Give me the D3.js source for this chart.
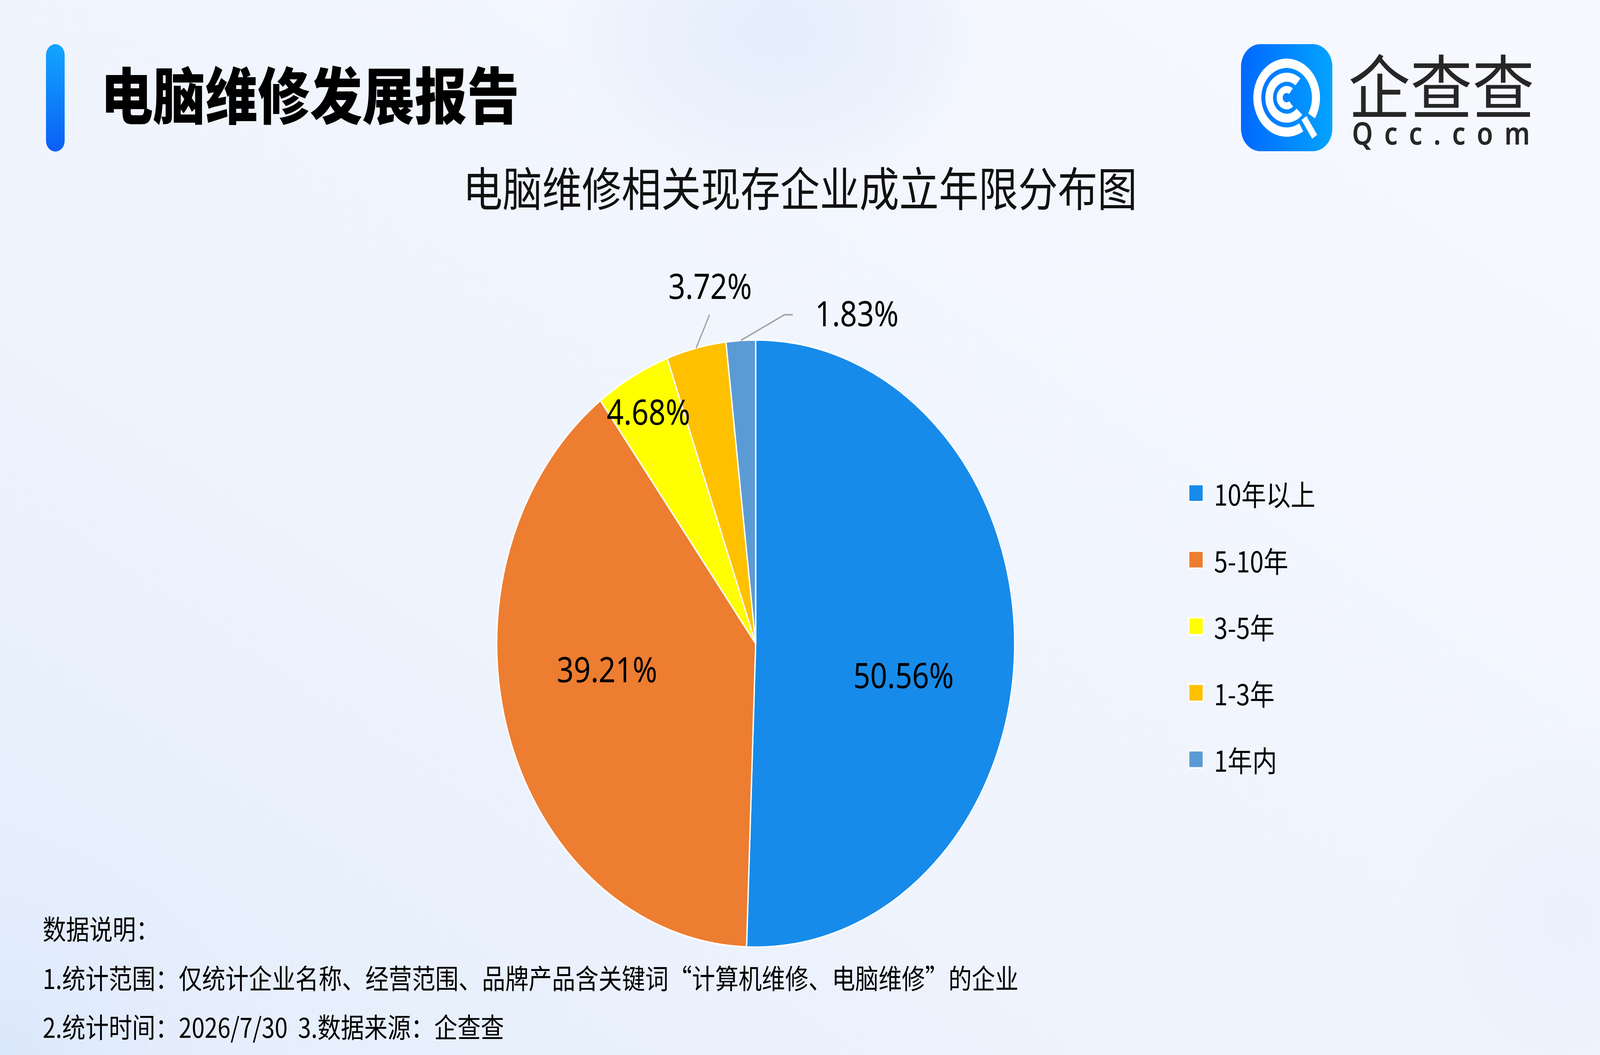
<!DOCTYPE html>
<html>
<head>
<meta charset="utf-8">
<script src="https://cdn.jsdelivr.net/npm/d3@7"></script>
<style>
  html, body { margin: 0; padding: 0; background: #f3f6fd; overflow: hidden; width: 100%; height: 100%; }
  #chart { width: 100vw; height: 100vh; }
  svg { display: block; }
</style>
</head>
<body>
<div id="chart"></div>
<script>
// data
const categories = ["10年以上", "5-10年", "3-5年", "1-3年", "1年内"];
const shares = [50.56, 39.21, 4.68, 3.72, 1.83];
const sliceColors = ["#178BEA", "#ED7D31", "#FFFF00", "#FFC000", "#5B9BD5"];

const title = "电脑维修发展报告";
const subtitle = "电脑维修相关现存企业成立年限分布图";
const notes = [
  "数据说明：",
  "1.统计范围：仅统计企业名称、经营范围、品牌产品含关键词“计算机维修、电脑维修”的企业",
  "2.统计时间：2026/7/30  3.数据来源：企查查"
];

const width = 4800;
const height = 2700;
const cjk = "'Noto Sans CJK SC', 'Noto Sans', sans-serif";
const latin = "'Noto Sans', 'Noto Sans CJK SC', sans-serif";

// drawn in a 4800x2700 frame, scaled to whatever the window is
const svg = d3.select("#chart")
  .append("svg")
  .attr("viewBox", `0 0 ${width} ${height}`)
  .attr("preserveAspectRatio", "none")
  .attr("width", "100%")
  .attr("height", "100%");

const defs = svg.append("defs");

// background
const bg = defs.append("linearGradient").attr("id", "bg")
  .attr("x1", 0).attr("y1", 1).attr("x2", 1).attr("y2", 0);
bg.append("stop").attr("offset", "0").attr("stop-color", "#e3edfc");
bg.append("stop").attr("offset", "0.35").attr("stop-color", "#eef3fd");
bg.append("stop").attr("offset", "1").attr("stop-color", "#f7f9fe");

const blob = defs.append("radialGradient").attr("id", "blob");
blob.append("stop").attr("offset", "0").attr("stop-color", "#e4edfc").attr("stop-opacity", 1);
blob.append("stop").attr("offset", "0.7").attr("stop-color", "#e8f0fc").attr("stop-opacity", 0.6);
blob.append("stop").attr("offset", "1").attr("stop-color", "#eef3fd").attr("stop-opacity", 0);

const blob2 = defs.append("radialGradient").attr("id", "blob2");
blob2.append("stop").attr("offset", "0").attr("stop-color", "#dbe8fb").attr("stop-opacity", 1);
blob2.append("stop").attr("offset", "1").attr("stop-color", "#e6eefc").attr("stop-opacity", 0);

svg.append("rect").attr("width", width).attr("height", height).attr("fill", "url(#bg)");
svg.append("ellipse").attr("cx", 2330).attr("cy", 80).attr("rx", 650).attr("ry", 420).attr("fill", "url(#blob)");
svg.append("ellipse").attr("cx", 0).attr("cy", 2700).attr("rx", 900).attr("ry", 700).attr("fill", "url(#blob2)");
svg.append("ellipse").attr("cx", 4700).attr("cy", 2350).attr("rx", 500).attr("ry", 500).attr("fill", "url(#blob)").attr("opacity", 0.5);

// header bar + title
const bar = defs.append("linearGradient").attr("id", "bar")
  .attr("x1", 0).attr("y1", 0).attr("x2", 0).attr("y2", 1);
bar.append("stop").attr("offset", "0").attr("stop-color", "#12a6ff");
bar.append("stop").attr("offset", "1").attr("stop-color", "#0a5ff4");

svg.append("rect")
  .attr("x", 138).attr("y", 113)
  .attr("width", 56).attr("height", 275)
  .attr("rx", 28)
  .attr("fill", "url(#bar)");

svg.append("text")
  .attr("x", 302).attr("y", 236)
  .attr("dominant-baseline", "central")
  .attr("font-family", cjk)
  .attr("font-weight", 900)
  .attr("font-size", 157)
  .attr("fill", "#000")
  .text(title);

// logo
const logoBox = defs.append("linearGradient").attr("id", "logoBox")
  .attr("x1", 0).attr("y1", 0).attr("x2", 1).attr("y2", 0);
logoBox.append("stop").attr("offset", "0").attr("stop-color", "#0068ff");
logoBox.append("stop").attr("offset", "1").attr("stop-color", "#03a3ff");

const logo = svg.append("g");
logo.append("rect")
  .attr("x", 3723).attr("y", 113)
  .attr("width", 274).attr("height", 274)
  .attr("rx", 58)
  .attr("fill", "url(#logoBox)");

const deg = Math.PI / 180;
const rings = [
  { r0: 76, r1: 100, a0: 150, a1: 482 },
  { r0: 41, r1: 64, a0: 133, a1: 400 },
  { r0: 12, r1: 30, a0: 140, a1: 398 }
];
const ringG = logo.append("g").attr("transform", "translate(3860,250)");
ringG.selectAll("path.ring")
  .data(rings)
  .join("path")
  .attr("class", "ring")
  .attr("fill", "#fff")
  .attr("d", d => d3.arc()({ innerRadius: d.r0, outerRadius: d.r1, startAngle: d.a0 * deg, endAngle: d.a1 * deg }));
ringG.append("line")
  .attr("x1", 52).attr("y1", 52)
  .attr("x2", 84).attr("y2", 100)
  .attr("stroke", "#fff").attr("stroke-width", 18);

logo.append("text")
  .attr("x", 4045).attr("y", 290)
  .attr("textLength", 558).attr("lengthAdjust", "spacingAndGlyphs")
  .attr("font-family", cjk)
  .attr("font-size", 178)
  .attr("fill", "#262626")
  .text("企查查");

logo.append("text")
  .attr("x", 4056).attr("y", 370)
  .attr("textLength", 534).attr("lengthAdjust", "spacing")
  .attr("font-family", latin)
  .attr("font-weight", 600)
  .attr("font-size", 80)
  .attr("fill", "#262626")
  .text("Qcc.com");

// subtitle
svg.append("text")
  .attr("x", 2400).attr("y", 476)
  .attr("text-anchor", "middle")
  .attr("dominant-baseline", "central")
  .attr("font-family", cjk)
  .attr("font-size", 119)
  .attr("fill", "#111")
  .text(subtitle);

// pie
const data = categories.map((c, i) => ({ name: c, value: shares[i], color: sliceColors[i] }));
const cx = 2267, cy = 1647, r = 777;

const pie = d3.pie().sort(null).value(d => d.value);
const arcs = pie(data);
const arc = d3.arc().innerRadius(0).outerRadius(r);

const pieG = svg.append("g").attr("transform", `translate(${cx},${cy})`);
pieG.selectAll("path")
  .data(arcs)
  .join("path")
  .attr("d", arc)
  .attr("fill", d => d.data.color)
  .attr("stroke", "#fff")
  .attr("stroke-width", 4)
  .attr("stroke-linejoin", "round");

const fmt = d => d3.format(".2f")(d) + "%";
const polar = (a, rad) => [Math.sin(a) * rad, -Math.cos(a) * rad];
const mid = d => (d.startAngle + d.endAngle) / 2;

const labelG = pieG.append("g")
  .attr("font-family", latin)
  .attr("font-size", 89)
  .attr("fill", "#000");

// large slices: label inside
arcs.filter(d => d.data.value >= 10).forEach(d => {
  const [x, y] = polar(mid(d) + 0.16, 0.58 * r);
  labelG.append("text")
    .attr("x", x).attr("y", y)
    .attr("text-anchor", "middle").attr("dominant-baseline", "central")
    .text(fmt(d.data.value));
});

// mid-sized slices: label near the rim
arcs.filter(d => d.data.value < 10 && d.data.value >= 4).forEach(d => {
  const [x, y] = polar(mid(d), 0.87 * r);
  labelG.append("text")
    .attr("x", x).attr("y", y)
    .attr("text-anchor", "middle").attr("dominant-baseline", "central")
    .text(fmt(d.data.value));
});

// small slices: outside with leader line
const leaderY = -1.083 * r;
const leaderDx = [40, 131];
arcs.filter(d => d.data.value < 4).forEach((d, k) => {
  const [x0, y0] = polar(mid(d), r);
  const x1 = x0 + leaderDx[k], y1 = leaderY;
  const pts = k === 0 ? [[x0, y0], [x1, y1]] : [[x0, y0], [x1, y1], [x1 + 25, y1]];
  labelG.append("path")
    .attr("d", d3.line()(pts))
    .attr("fill", "none")
    .attr("stroke", "#a6a6a6")
    .attr("stroke-width", 4);
  if (k === 0) {
    labelG.append("text")
      .attr("x", x1 + 2).attr("y", y1 - 75)
      .attr("text-anchor", "middle").attr("dominant-baseline", "central")
      .text(fmt(d.data.value));
  } else {
    labelG.append("text")
      .attr("x", x1 + 92).attr("y", y1 - 5)
      .attr("text-anchor", "start").attr("dominant-baseline", "central")
      .text(fmt(d.data.value));
  }
});

// legend
const legend = svg.append("g").attr("transform", "translate(3566,1262)");
const rows = legend.selectAll("g")
  .data(data)
  .join("g")
  .attr("transform", (d, i) => `translate(0,${i * 170.3})`);
rows.append("rect")
  .attr("x", 0).attr("y", -22)
  .attr("width", 44).attr("height", 44)
  .attr("fill", d => d.color)
  .attr("stroke", "#fff")
  .attr("stroke-width", 4);
rows.append("text")
  .attr("x", 76).attr("y", 0)
  .attr("dominant-baseline", "central")
  .attr("font-family", cjk)
  .attr("font-size", 74)
  .attr("fill", "#000")
  .text(d => d.name);

// notes
svg.append("g")
  .selectAll("text")
  .data(notes)
  .join("text")
  .attr("x", 128)
  .attr("y", (d, i) => 2375 + i * 125.5)
  .attr("dominant-baseline", "central")
  .attr("font-family", cjk)
  .attr("font-size", 70)
  .attr("xml:space", "preserve")
  .style("white-space", "pre")
  .attr("fill", "#000")
  .text(d => d);
</script>
</body>
</html>
